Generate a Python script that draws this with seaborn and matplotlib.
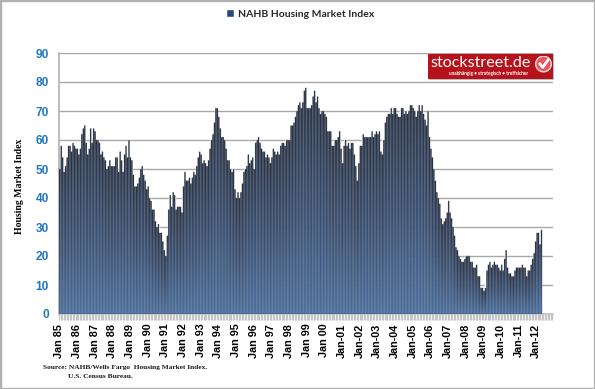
import numpy as np
import pandas as pd
import seaborn as sns
import matplotlib
matplotlib.use('Agg')
import matplotlib.pyplot as plt
from matplotlib.colors import LinearSegmentedColormap
from matplotlib.patches import Rectangle, Circle

# monthly index values
y1985 = [50, 58, 54, 49, 51, 54, 58, 58, 56, 59, 58, 57]
y1986 = [57, 55, 57, 62, 64, 65, 59, 55, 57, 64, 59, 64]
y1987 = [63, 60, 60, 59, 55, 56, 54, 53, 50, 51, 53, 51]
y1988 = [51, 51, 54, 54, 49, 56, 53, 49, 55, 58, 54, 60]
y1989 = [54, 53, 48, 44, 44, 45, 47, 50, 51, 48, 46, 43]
y1990 = [44, 40, 39, 36, 36, 32, 30, 31, 28, 28, 25, 22]
y1991 = [20, 27, 36, 41, 37, 42, 41, 36, 37, 37, 37, 35]
y1992 = [44, 49, 46, 46, 47, 45, 47, 49, 48, 51, 54, 56]
y1993 = [55, 52, 53, 52, 51, 53, 57, 60, 62, 66, 71, 71]
y1994 = [68, 64, 61, 61, 60, 57, 53, 53, 50, 49, 50, 43]
y1995 = [40, 42, 40, 42, 45, 49, 50, 51, 55, 52, 53, 54]
y1996 = [50, 59, 60, 61, 59, 57, 56, 56, 54, 55, 54, 52]
y1997 = [54, 57, 56, 55, 56, 55, 58, 59, 59, 58, 60, 60]
y1998 = [60, 65, 65, 66, 68, 70, 72, 73, 71, 73, 77, 78]
y1999 = [71, 71, 71, 72, 75, 77, 73, 75, 71, 69, 70, 70]
y2000 = [69, 68, 63, 63, 63, 58, 58, 60, 60, 61, 63, 57]
y2001 = [52, 58, 60, 58, 59, 57, 59, 59, 55, 51, 46, 52]
y2002 = [58, 58, 62, 61, 61, 61, 61, 61, 63, 61, 62, 63]
y2003 = [62, 63, 56, 55, 60, 66, 68, 69, 69, 71, 69, 71]
y2004 = [71, 69, 68, 68, 71, 71, 69, 70, 69, 70, 72, 72]
y2005 = [71, 70, 68, 70, 72, 70, 72, 69, 67, 65, 70, 61]
y2006 = [57, 54, 50, 46, 42, 40, 38, 33, 31, 32, 33, 35]
y2007 = [39, 35, 33, 30, 27, 23, 22, 20, 19, 18, 18, 19]
y2008 = [20, 20, 20, 18, 18, 16, 16, 17, 13, 13, 9, 9]
y2009 = [8, 9, 15, 17, 18, 16, 17, 18, 17, 17, 16, 15]
y2010 = [17, 15, 19, 22, 16, 14, 14, 13, 13, 15, 16, 16]
y2011 = [16, 16, 17, 16, 16, 13, 15, 15, 17, 19, 21, 25]
y2012 = [28, 28, 24, 29]

index_values = (y1985 + y1986 + y1987 + y1988 + y1989 + y1990 + y1991 + y1992 + y1993
                + y1994 + y1995 + y1996 + y1997 + y1998 + y1999 + y2000 + y2001 + y2002
                + y2003 + y2004 + y2005 + y2006 + y2007 + y2008 + y2009 + y2010 + y2011 + y2012)

year_labels = ['Jan 85', 'Jan 86', 'Jan 87', 'Jan 88', 'Jan 89', 'Jan 90', 'Jan 91', 'Jan 92',
               'Jan 93', 'Jan 94', 'Jan 95', 'Jan 96', 'Jan 97', 'Jan 98', 'Jan 99', 'Jan 00',
               'Jan-01', 'Jan-02', 'Jan-03', 'Jan-04', 'Jan-05', 'Jan-06', 'Jan-07', 'Jan-08',
               'Jan-09', 'Jan-10', 'Jan-11', 'Jan-12']
y_ticks = [0, 10, 20, 30, 40, 50, 60, 70, 80, 90]

W, H = 595, 389
n_slots = 336  # axis runs on to Dec 2012


def fx(px):
    return px / W


def fy(px):
    return 1 - px / H


sns.set_theme(style='white')
plt.rcParams['font.family'] = ['Liberation Sans', 'DejaVu Sans']

df = pd.DataFrame({'slot': np.arange(len(index_values)), 'index': index_values})

fig = plt.figure(figsize=(W / 100, H / 100), dpi=100, facecolor='white')
ax = fig.add_axes([fx(58.6), fy(314), fx(553 - 58.6), fy(53) - fy(314)])

sns.barplot(data=df, x='slot', y='index', color='#2b4a78', width=0.84, saturation=1,
            native_scale=True, ax=ax, label='NAHB Housing Market Index')

leg = ax.legend(loc='center', bbox_to_anchor=(fx(300), fy(14)), bbox_transform=fig.transFigure,
                frameon=False, handlelength=0.8, handleheight=0.8, handletextpad=0.4,
                prop={'family': 'Lato', 'weight': 'bold', 'size': 7.5})

# the bars take their fill from one fine image, so each fades navy to blue
# and the slim gaps between them survive at this small size
cmap = LinearSegmentedColormap.from_list('bar', ['#0f1c36', '#213e6c', '#3869a8'])
sub = 10
rows = 900
fill = np.zeros((rows, n_slots * sub, 4))
for bar in ax.patches:
    left = int(round((bar.get_x() + 0.5) * sub))
    right = int(round((bar.get_x() + bar.get_width() + 0.5) * sub))
    top = int(round(bar.get_height() * rows / 90))
    fill[:top, left:right] = cmap(np.linspace(1, 0, top))[:, None, :]
    bar.set_facecolor('none')
ax.imshow(fill, origin='lower', aspect='auto', extent=(-0.5, n_slots - 0.5, 0, 90),
          interpolation='hanning', interpolation_stage='rgba', zorder=3)

ax.set_xlim(-0.5, n_slots - 0.5)
ax.set_ylim(0, 90)
ax.set_yticks(y_ticks)
ax.set_xticks(np.arange(0, len(index_values), 12))
ax.set_xticklabels(year_labels, rotation=90, fontsize=7.8, fontweight='bold', color='black')
ax.set_xticks(np.arange(n_slots), minor=True)
ax.tick_params(axis='x', which='both', length=4, width=0.9, color='#c4c4c4', pad=3, bottom=True)
ax.tick_params(axis='y', left=False, length=0, pad=7)
for t in ax.get_yticklabels():
    t.set_fontsize(8.6)
    t.set_fontweight('bold')
    t.set_color('#1f78c4')

ax.set_axisbelow(True)
ax.grid(axis='y', color='#a8a8a8', linewidth=1)
ax.grid(axis='x', visible=False)
ax.set_xlabel('')
ax.set_ylabel('')
for side in ['top', 'right']:
    ax.spines[side].set_visible(False)
ax.spines['left'].set_color('#b4b4b4')
ax.spines['bottom'].set_color('#c4c4c4')

fig.text(fx(20), fy(186), 'Housing Market Index', rotation=90, ha='center', va='center',
         family='Liberation Serif', fontweight='bold', fontsize=7, color='black')
fig.text(fx(43), fy(368), 'Source: NAHB/Wells Fargo  Housing Market Index.', ha='left', va='center',
         family='Liberation Serif', fontweight='bold', fontsize=5.3, color='#1a1a1a')
fig.text(fx(68), fy(377), 'U.S. Census Bureau.', ha='left', va='center',
         family='Liberation Serif', fontweight='bold', fontsize=5.3, color='#1a1a1a')

# stockstreet.de logo
fig.add_artist(Rectangle((fx(429), fy(80)), 125 / W, 26 / H, transform=fig.transFigure,
                         facecolor='#bcbcbc', edgecolor='none', zorder=5))
fig.add_artist(Rectangle((fx(428), fy(79)), 125 / W, 25 / H, transform=fig.transFigure,
                         facecolor='#b5121b', edgecolor='none', zorder=6))
fig.text(fx(430.5), fy(63), 'stockstreet.de', ha='left', va='center', family='Lato',
         fontsize=11.6, color='white', zorder=7)
fig.text(fx(489), fy(74), 'unabhängig • strategisch • treffsicher', ha='center', va='center',
         family='Lato', fontweight='bold', fontsize=3.4, color='white', zorder=7)
logo_ax = fig.add_axes([fx(535), fy(72.5), 17 / W, 17 / H], zorder=8)
logo_ax.axis('off')
logo_ax.set_xlim(-1, 1)
logo_ax.set_ylim(-1, 1)
logo_ax.add_patch(Circle((0, 0), 0.92, facecolor='#e8555a', edgecolor='#f2dede', linewidth=1))
logo_ax.plot([-0.45, -0.1, 0.55], [0.05, -0.4, 0.5], color='white', linewidth=2)

# thin grey frame round the picture
fig.add_artist(Rectangle((0, 0), 1, 1, transform=fig.transFigure, fill=False,
                         edgecolor='#b0b0b0', linewidth=2.4, zorder=10))

fig.savefig('out.png', dpi=100)
